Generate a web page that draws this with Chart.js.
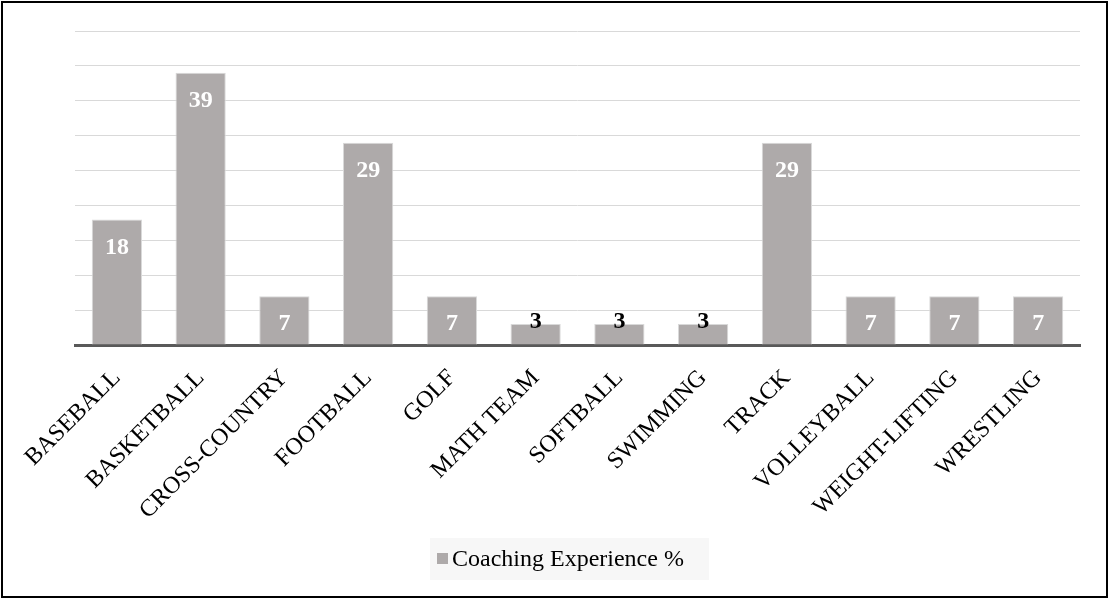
<!DOCTYPE html>
<html>
<head>
<meta charset="utf-8">
<script src="https://cdn.jsdelivr.net/npm/chart.js@4.4.1/dist/chart.umd.min.js"></script>
<style>
    html, body { margin: 0; padding: 0; background: #fff; }
    #frame {
        position: absolute;
        left: 1px; top: 1px;
        width: 1107px; height: 597px;
        box-sizing: border-box;
        border: 2px solid #000;
    }
    #frame canvas { display: block; }
</style>
</head>
<body>
<div id="frame"><canvas id="sports"></canvas></div>
<script>
/* Coaching experience by sport — bar chart */

const SPORTS = [
    'BASEBALL', 'BASKETBALL', 'CROSS-COUNTRY', 'FOOTBALL', 'GOLF', 'MATH TEAM',
    'SOFTBALL', 'SWIMMING', 'TRACK', 'VOLLEYBALL', 'WEIGHT-LIFTING', 'WRESTLING',
];
const EXPERIENCE = [18, 39, 7, 29, 7, 3, 3, 3, 29, 7, 7, 7];
const SERIES_NAME = 'Coaching Experience %';

const COLORS = {
    bar: '#aeaaaa',
    barEdge: '#d9d9d9',
    grid: '#d9d9d9',
    axis: '#595959',
    text: '#000000',
    legendBg: '#f7f7f7',
};
const SERIF = "'Liberation Serif', 'Times New Roman', serif";

// value labels: white inside the bar top, black above bars too short to hold them
const valueLabels = {
    id: 'valueLabels',
    afterDatasetsDraw(chart) {
        const ctx = chart.ctx;
        const meta = chart.getDatasetMeta(0);
        const values = chart.data.datasets[0].data;
        ctx.save();
        ctx.font = 'bold 24px ' + SERIF;
        ctx.textAlign = 'center';
        ctx.textBaseline = 'middle';
        meta.data.forEach((bar, i) => {
            const h = bar.base - bar.y;
            if (h >= 30) {
                ctx.fillStyle = '#ffffff';
                ctx.fillText(values[i], bar.x, bar.y + 28);
            } else {
                ctx.fillStyle = COLORS.text;
                ctx.fillText(values[i], bar.x, bar.y - 2);
            }
        });
        ctx.restore();
    },
};

// legend with a shaded box under the chart
const boxedLegend = {
    id: 'boxedLegend',
    afterDraw(chart) {
        const ctx = chart.ctx;
        const ds = chart.data.datasets[0];
        const area = chart.chartArea;
        const cx = (area.left + area.right) / 2 - 8;
        const cy = chart.height - 37;
        const w = 279, h = 42;
        const left = cx - w / 2;
        ctx.save();
        ctx.fillStyle = COLORS.legendBg;
        ctx.fillRect(left, cy - h / 2, w, h);
        ctx.fillStyle = ds.backgroundColor;
        ctx.fillRect(left + 7, cy - 6, 11, 11);
        ctx.fillStyle = COLORS.text;
        ctx.font = '24px ' + SERIF;
        ctx.textAlign = 'left';
        ctx.textBaseline = 'middle';
        ctx.fillText(ds.label, left + 22, cy + 1);
        ctx.restore();
    },
};

const frame = document.getElementById('frame');
const canvas = document.getElementById('sports');
canvas.width = frame.clientWidth;
canvas.height = frame.clientHeight;

new Chart(canvas, {
    type: 'bar',
    data: {
        labels: SPORTS,
        datasets: [{
            label: SERIES_NAME,
            data: EXPERIENCE,
            backgroundColor: COLORS.bar,
            borderColor: COLORS.barEdge,
            borderWidth: 1,
            barPercentage: 0.6,
            categoryPercentage: 1,
        }],
    },
    options: {
        responsive: false,
        animation: false,
        layout: {
            padding: { left: 72, right: 26, top: 28, bottom: 80 },
        },
        scales: {
            x: {
                grid: { display: false, drawTicks: false },
                border: { color: COLORS.axis, width: 3 },
                ticks: {
                    minRotation: 45,
                    maxRotation: 45,
                    autoSkip: false,
                    padding: 19,
                    color: COLORS.text,
                    font: { family: SERIF, size: 24 },
                },
                afterFit: s => { s.height = 171; },
            },
            y: {
                min: 0,
                max: 45,
                ticks: { display: false, stepSize: 5 },
                grid: { color: COLORS.grid, lineWidth: 1, drawTicks: false },
                border: { display: false },
                afterFit: s => { s.width = 0; },
            },
        },
        plugins: {
            legend: { display: false },
            tooltip: { enabled: false },
        },
    },
    plugins: [valueLabels, boxedLegend],
});
</script>
</body>
</html>
